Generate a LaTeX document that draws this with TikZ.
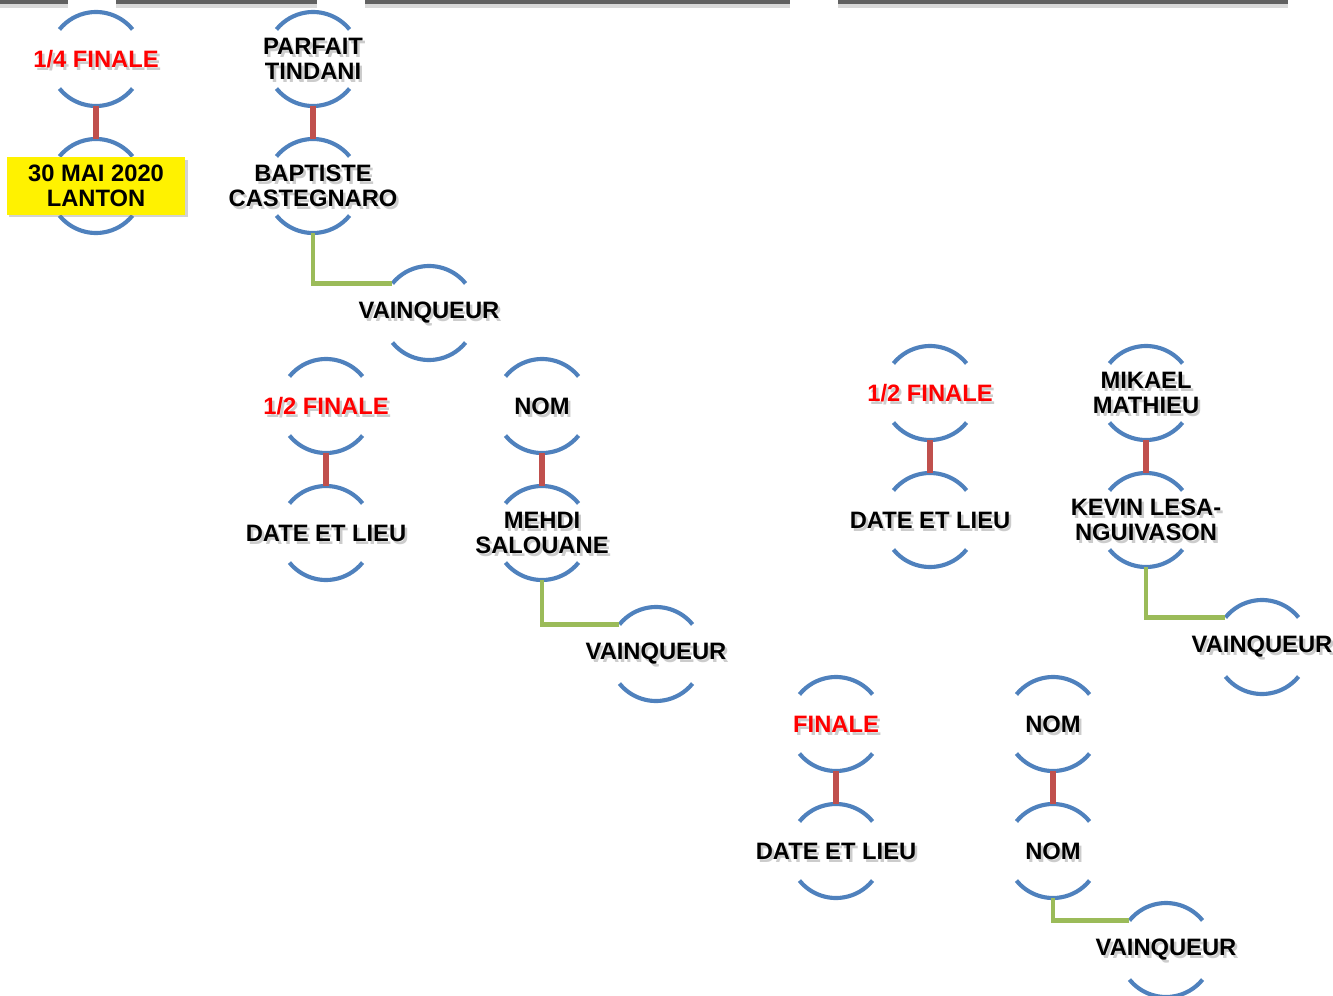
\documentclass[tikz,border=0pt]{standalone}
\usepackage{fontspec}
\setmainfont{Liberation Sans}
\usetikzlibrary{shadows}
\definecolor{ringblue}{HTML}{4F81BD}
\definecolor{linkred}{HTML}{C0504D}
\definecolor{wingreen}{HTML}{9BBB59}
\tikzset{
  ring/.style={circle,minimum size=70.5pt,inner sep=0pt,outer sep=0pt},
  arcline/.style={draw=ringblue,line width=3.1pt},
  lbl/.style={align=center,inner sep=0pt,font=\fontsize{17.8}{18.8}\selectfont\bfseries},
  pairlink/.style={draw=linkred,line width=4.5pt},
  winlink/.style={draw=wingreen,line width=3.5pt},
  datebox/.style={fill=yellow,minimum width=134pt,minimum height=43pt,inner sep=0pt,
    align=center,font=\fontsize{17.8}{18.8}\selectfont\bfseries,
    drop shadow={shadow xshift=2pt,shadow yshift=-2pt,opacity=.35}},
  topbar/.style={fill=black!62,drop shadow={shadow xshift=0pt,shadow yshift=-3pt,opacity=.3}},
}
% one round: two arcs and a label with its soft shadow
\newcommand\ring[4][black]{%
  \node[ring] (#2) at (#3) {};
  \draw[arcline] (#2.39) arc[start angle=39,end angle=141,radius=35.25pt]
                 (#2.219) arc[start angle=219,end angle=321,radius=35.25pt];
  \node[lbl,text=black,opacity=.2] at ([shift={(2.5,3)}]#2.center) {#4};
  \node[lbl,text=#1] (#2t) at (#2.center) {#4};
}
\begin{document}
\begin{tikzpicture}[x=0.75pt,y=-0.75pt]
  \useasboundingbox (0,0) rectangle (1333,995);
  % bars along the top edge
  \fill[topbar] (0,0) rectangle (68,4);
  \fill[topbar] (116,0) rectangle (317,4);
  \fill[topbar] (365,0) rectangle (790,4);
  \fill[topbar] (838,0) rectangle (1288,4);

  % quarter final
  \ring[red]{qf}{96,59}{1/4 FINALE}
  \ring{qfdate}{96,186}{}
  \node[datebox] (qfbox) at (qfdate) {30 MAI 2020\\LANTON};
  \ring{pt}{313,59}{PARFAIT\\TINDANI}
  \ring{bc}{313,186}{BAPTISTE\\CASTEGNARO}
  \ring{win1}{429,313}{VAINQUEUR}

  % first semi final
  \ring[red]{sfa}{326,406}{1/2 FINALE}
  \ring{sfadate}{326,533}{DATE ET LIEU}
  \ring{noma}{542,406}{NOM}
  \ring{ms}{542,533}{MEHDI\\SALOUANE}
  \ring{win2}{656,654}{VAINQUEUR}

  % second semi final
  \ring[red]{sfb}{930,393}{1/2 FINALE}
  \ring{sfbdate}{930,520}{DATE ET LIEU}
  \ring{mm}{1146,393}{MIKAEL\\MATHIEU}
  \ring{kl}{1146,520}{KEVIN LESA-\\NGUIVASON}
  \ring{win3}{1262,647}{VAINQUEUR}

  % final
  \ring[red]{fin}{836,724}{FINALE}
  \ring{findate}{836,851}{DATE ET LIEU}
  \ring{nomb}{1053,724}{NOM}
  \ring{nomc}{1053,851}{NOM}
  \ring{win4}{1166,950}{VAINQUEUR}

  % links between rounds
  \path[pairlink] (qf.south) -- (qfdate.north)
                  (pt.south) -- (bc.north)
                  (sfa.south) -- (sfadate.north)
                  (noma.south) -- (ms.north)
                  (sfb.south) -- (sfbdate.north)
                  (mm.south) -- (kl.north)
                  (fin.south) -- (findate.north)
                  (nomb.south) -- (nomc.north);
  \path[winlink] (bc.south) |- (win1.141)
                 (ms.south) |- (win2.141)
                 (kl.south) |- (win3.141)
                 (nomc.south) |- (win4.141);
\end{tikzpicture}
\end{document}
